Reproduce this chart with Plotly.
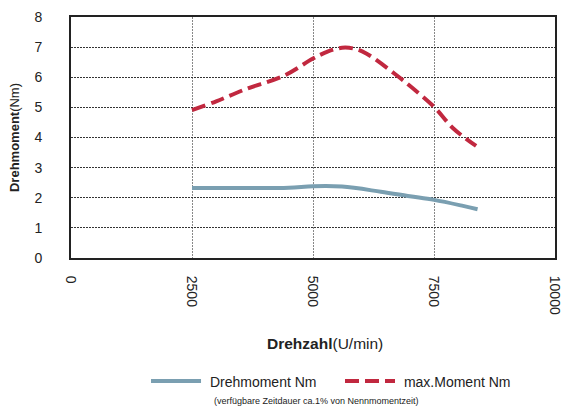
import plotly.graph_objects as go

rpm_nom = [2500, 3500, 4500, 5000, 5600, 6400, 7000, 7500, 8100, 8400]
torque_nom = [2.32, 2.32, 2.33, 2.38, 2.37, 2.20, 2.05, 1.93, 1.73, 1.62]

rpm_max = [2500, 3000, 3600, 4400, 5000, 5300, 5600, 5850, 6100, 6700, 7050, 7500, 7900, 8370]
torque_max = [4.91, 5.20, 5.60, 6.05, 6.62, 6.85, 6.98, 6.95, 6.79, 6.10, 5.65, 5.02, 4.30, 3.72]

x_ticks = [0, 2500, 5000, 7500, 10000]
x_ticktext = ["0", "2500", "5000", "7500", "10000"]
y_ticks = [0, 1, 2, 3, 4, 5, 6, 7, 8]

font = "Liberation Sans, Arial, sans-serif"

fig = go.Figure()
fig.add_trace(go.Scatter(x=rpm_nom, y=torque_nom, mode="lines", name="\u00a0Drehmoment Nm",
                         line=dict(color="#7a9fb1", width=4, shape="spline")))
fig.add_trace(go.Scatter(x=rpm_max, y=torque_max, mode="lines", name="\u00a0max.Moment Nm",
                         line=dict(color="#c1283f", width=4, dash="14px,6px", shape="spline")))

fig.update_layout(
    width=562, height=407,
    margin=dict(l=71, r=7, t=17, b=149, autoexpand=False),
    paper_bgcolor="white", plot_bgcolor="white",
    font=dict(family=font, size=14, color="#222"),
    xaxis=dict(range=[0, 10000], tickvals=x_ticks, ticktext=x_ticktext, tickangle=90,
               ticklabelstandoff=13, ticklabeloverflow="allow", tickfont=dict(size=14),
               showgrid=True, gridcolor="#888", griddash="2px,1px", gridwidth=1,
               showline=True, linecolor="#222", linewidth=2, mirror=True,
               zeroline=False, ticks=""),
    yaxis=dict(range=[0, 8], tickvals=y_ticks, showgrid=True, gridcolor="#333",
               griddash="2px,1px", gridwidth=1, showline=True, linecolor="#222",
               linewidth=2, mirror=True, zeroline=False, ticks="",
               ticklabelstandoff=24, tickfont=dict(size=14),
               title=dict(text="<b>Drehmoment</b>(Nm)", font=dict(size=13), standoff=12)),
    legend=dict(orientation="h", x=0.155, xanchor="left", y=-0.446, yanchor="top",
                font=dict(size=14, family=font), itemwidth=50,
                entrywidth=129, entrywidthmode="pixels", bgcolor="rgba(0,0,0,0)"),
    showlegend=True,
)

fig.add_annotation(text="<b>Drehzahl</b>(U/min)", xref="paper", yref="paper",
                   x=0.525, y=-0.353, xanchor="center", yanchor="middle",
                   showarrow=False, font=dict(size=15.5, family=font))

fig.add_annotation(text="(verfügbare Zeitdauer ca.1% von Nennmomentzeit)",
                   xref="paper", yref="paper", x=0.291, y=-0.594,
                   xanchor="left", yanchor="middle", showarrow=False,
                   font=dict(size=9, family=font))

fig.write_html("out.html", config={"displayModeBar": False},
               post_script="document.body.style.margin='0px';")
